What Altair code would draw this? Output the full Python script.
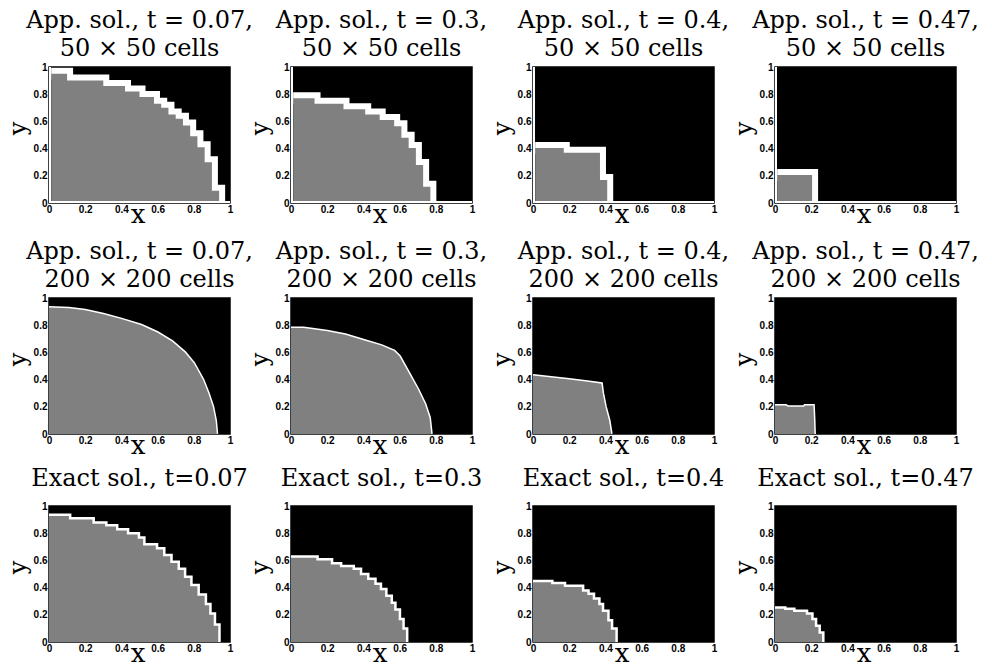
import altair as alt
import pandas as pd

# ---------------- data ----------------
# Row 1: approximate solution on 50x50 cells - staircase top of the grey region
r1c1_x = [0.012, 0.10, 0.30, 0.42, 0.50, 0.58, 0.62, 0.66, 0.70, 0.74, 0.78, 0.82, 0.86, 0.90, 0.94]
r1c1_y = [0.95, 0.90, 0.86, 0.82, 0.78, 0.73, 0.70, 0.65, 0.62, 0.57, 0.49, 0.41, 0.30, 0.09, 0.0]
r1c2_x = [0.012, 0.13, 0.29, 0.41, 0.49, 0.57, 0.61, 0.65, 0.69, 0.73, 0.77]
r1c2_y = [0.77, 0.73, 0.69, 0.65, 0.61, 0.565, 0.48, 0.405, 0.28, 0.12, 0.0]
r1c3_x = [0.012, 0.17, 0.37, 0.41]
r1c3_y = [0.405, 0.37, 0.17, 0.0]
r1c4_x = [0.012, 0.205]
r1c4_y = [0.205, 0.0]

# Row 2: approximate solution on 200x200 cells - boundary of the grey region
r2c1_x = [0.0, 0.11, 0.20, 0.30, 0.40, 0.51, 0.60, 0.68, 0.75, 0.80, 0.85, 0.88, 0.905, 0.92, 0.927]
r2c1_y = [0.93, 0.925, 0.91, 0.88, 0.845, 0.80, 0.745, 0.68, 0.60, 0.52, 0.40, 0.30, 0.20, 0.10, 0.0]
r2c2_x = [0.0, 0.07, 0.20, 0.30, 0.40, 0.50, 0.57, 0.60, 0.65, 0.70, 0.74, 0.765, 0.775]
r2c2_y = [0.78, 0.78, 0.755, 0.73, 0.69, 0.65, 0.61, 0.57, 0.45, 0.33, 0.22, 0.12, 0.0]
r2c3_x = [0.0, 0.10, 0.20, 0.30, 0.378, 0.385, 0.40, 0.42, 0.432]
r2c3_y = [0.43, 0.415, 0.40, 0.385, 0.37, 0.30, 0.20, 0.10, 0.0]
r2c4_x = [0.0, 0.06, 0.07, 0.16, 0.165, 0.212, 0.215, 0.218]
r2c4_y = [0.21, 0.21, 0.20, 0.20, 0.21, 0.21, 0.12, 0.0]

# Row 3: exact solution - staircase top of the grey region
r3c1_x = [0.0, 0.11, 0.24, 0.31, 0.37, 0.43, 0.49, 0.52, 0.59, 0.63, 0.67, 0.71, 0.745, 0.78, 0.82, 0.86, 0.885, 0.91, 0.935]
r3c1_y = [0.926, 0.90, 0.87, 0.85, 0.82, 0.79, 0.76, 0.71, 0.68, 0.63, 0.58, 0.53, 0.47, 0.41, 0.34, 0.27, 0.20, 0.12, 0.0]
r3c2_x = [0.0, 0.14, 0.22, 0.27, 0.34, 0.38, 0.42, 0.46, 0.49, 0.52, 0.55, 0.57, 0.595, 0.615, 0.635]
r3c2_y = [0.62, 0.60, 0.57, 0.55, 0.53, 0.49, 0.455, 0.42, 0.38, 0.33, 0.28, 0.23, 0.16, 0.09, 0.0]
r3c3_x = [0.0, 0.10, 0.17, 0.27, 0.30, 0.33, 0.36, 0.38, 0.41, 0.43, 0.455]
r3c3_y = [0.44, 0.425, 0.405, 0.37, 0.345, 0.31, 0.27, 0.22, 0.15, 0.09, 0.0]
r3c4_x = [0.0, 0.05, 0.10, 0.17, 0.20, 0.22, 0.24, 0.26]
r3c4_y = [0.245, 0.235, 0.22, 0.20, 0.16, 0.11, 0.06, 0.0]

times = ["0.07", "0.3", "0.4", "0.47"]
row1_titles = [["App. sol., t = %s," % t, "50 \u00d7 50 cells"] for t in times]
row2_titles = [["App. sol., t = %s," % t, "200 \u00d7 200 cells"] for t in times]
row3_titles = ["Exact sol., t=%s" % t for t in times]
ticks = [0, 0.2, 0.4, 0.6, 0.8, 1]

W, H = 181, 136
GREY = "#808080"
SERIF = "DejaVu Serif"

xaxis = alt.Axis(values=ticks, format="~g", labelFont="Liberation Sans", labelFontWeight="bold",
                 labelFontSize=10, labelColor="black", labelPadding=1, labelFlush=False,
                 labelOverlap=False, ticks=False, domain=False, grid=False, title="x",
                 titleFont=SERIF, titleFontSize=26, titleFontWeight="normal", titleColor="black",
                 titleX=W * 0.49, titleY=19, titleBaseline="alphabetic")
yaxis = alt.Axis(values=ticks, format="~g", labelFont="Liberation Sans", labelFontWeight="bold",
                 labelFontSize=10, labelColor="black", labelPadding=2, labelFlush=False,
                 labelOverlap=False, ticks=False, domain=False, grid=False, title="y",
                 titleFont=SERIF, titleFontSize=24, titleFontWeight="normal", titleColor="black",
                 titleX=-24, titleY=61, titleAngle=270, titleBaseline="alphabetic")
xs = alt.Scale(domain=[0, 1], nice=False, zero=False)
ys = alt.Scale(domain=[0, 1], nice=False, zero=False)


def X(field):
    return alt.X(field, scale=xs, axis=xaxis)


def Y(field):
    return alt.Y(field, scale=ys, axis=yaxis)


def panel(px, py, interp, halo, title, offset, edges):
    df = pd.DataFrame({"x": px, "y": py, "base": [0.0] * len(px), "o": list(range(len(px)))})
    bg = alt.Chart(pd.DataFrame({"x": [0], "x2": [1], "y": [0], "y2": [1]})).mark_rect(
        color="black").encode(x=X("x:Q"), x2="x2:Q", y=Y("y:Q"), y2="y2:Q")
    halo_line = alt.Chart(df).mark_line(color="white", strokeWidth=halo, interpolate=interp,
                                        clip=True, strokeJoin="miter").encode(
        x=X("x:Q"), y=Y("y:Q"), order="o:Q")
    area = alt.Chart(df).mark_area(color=GREY, fillOpacity=1, interpolate=interp, clip=True).encode(
        x=X("x:Q"), y=Y("y:Q"), y2="base:Q")
    layers = [bg, halo_line, area]
    if edges:
        edf = pd.DataFrame({"x": [0, 0], "x2": [0, 1], "y": [0, 0], "y2": [1, 0]})
        layers.append(alt.Chart(edf).mark_rule(color="white", strokeWidth=4, clip=True).encode(
            x=X("x:Q"), x2="x2:Q", y=Y("y:Q"), y2="y2:Q"))
    return alt.layer(*layers).properties(
        width=W, height=H,
        title=alt.TitleParams(text=title, font=SERIF, fontSize=24, fontWeight="normal",
                              color="black", anchor="middle", offset=offset, lineHeight=28))


def row(xl, yl, interp, halo, titles, offset, edges):
    return alt.hconcat(*[panel(xl[i], yl[i], interp, halo, titles[i], offset, edges)
                         for i in range(4)], spacing=61, bounds="flush")


row1 = row([r1c1_x, r1c2_x, r1c3_x, r1c4_x], [r1c1_y, r1c2_y, r1c3_y, r1c4_y],
           "step-after", 12, row1_titles, 1, True)
row2 = row([r2c1_x, r2c2_x, r2c3_x, r2c4_x], [r2c1_y, r2c2_y, r2c3_y, r2c4_y],
           "linear", 3, row2_titles, 1, False)
row3 = row([r3c1_x, r3c2_x, r3c3_x, r3c4_x], [r3c1_y, r3c2_y, r3c3_y, r3c4_y],
           "step-after", 5, row3_titles, 10, False)

chart = alt.vconcat(
    row1,
    alt.vconcat(row2, row3, spacing=7),
    spacing=11,
).properties(
    background="white",
    padding={"left": 5, "top": 8, "right": 5, "bottom": 0},
).configure_view(stroke="black", strokeWidth=1.5).configure_axis(labelOverlap=False)

chart.save("out.html", embed_options={"renderer": "svg", "actions": False})
